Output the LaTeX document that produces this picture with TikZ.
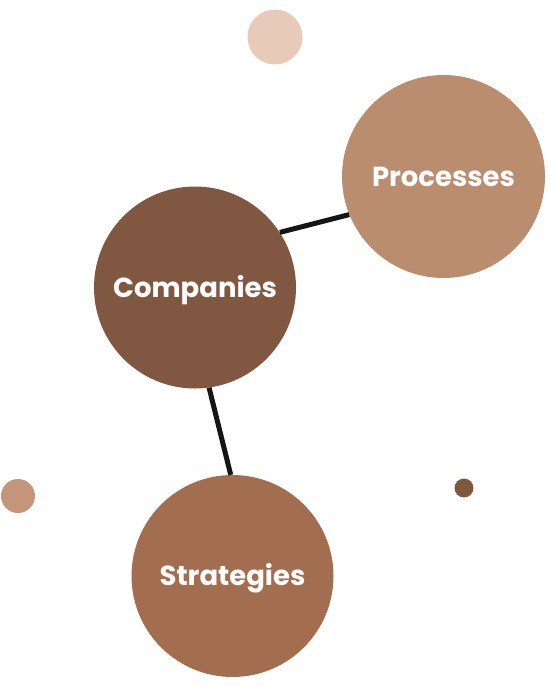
\documentclass[tikz,border=0pt]{standalone}
\usepackage{fontspec}
\setmainfont{Poppins}
\definecolor{blush}{HTML}{E8CAB8}
\definecolor{sand}{HTML}{BA8D6F}
\definecolor{cocoa}{HTML}{805842}
\definecolor{clay}{HTML}{A36E4F}
\definecolor{tan}{HTML}{C4957A}
\definecolor{ink}{HTML}{151515}
\tikzset{bulle/.style = {circle, inner sep = 0pt, minimum size = #1, text = white,
                         text height = 19pt, text depth = 0pt,
                         font = \bfseries\fontsize{27.5}{32}\selectfont},
         bulle/.default=202pt,
         lien/.style = {draw = ink, line width = 5pt}
        }

\begin{document}
\begin{tikzpicture}[x=1pt, y=-1pt]
  \useasboundingbox (0, 0) rectangle (550, 686);
  \node[bulle=55pt, fill=blush] (haut) at (275, 37) {};
  \node[bulle=34pt, fill=tan] (gauche) at (18, 496) {};
  \node[bulle=18pt, fill=cocoa] (droite) at (464, 488) {};
  \node[bulle=203pt, fill=sand] (proc) at (443.5, 176.5) {Processes};
  \node[bulle, fill=cocoa] (comp) at (195, 287.5) {Companies};
  \node[bulle, fill=clay] (strat) at (232.5, 576) {Strategies};
  \draw[lien] (comp.33) -- (proc.202);
  \draw[lien] (comp.-82) -- (strat.91);
\end{tikzpicture}
\end{document}
